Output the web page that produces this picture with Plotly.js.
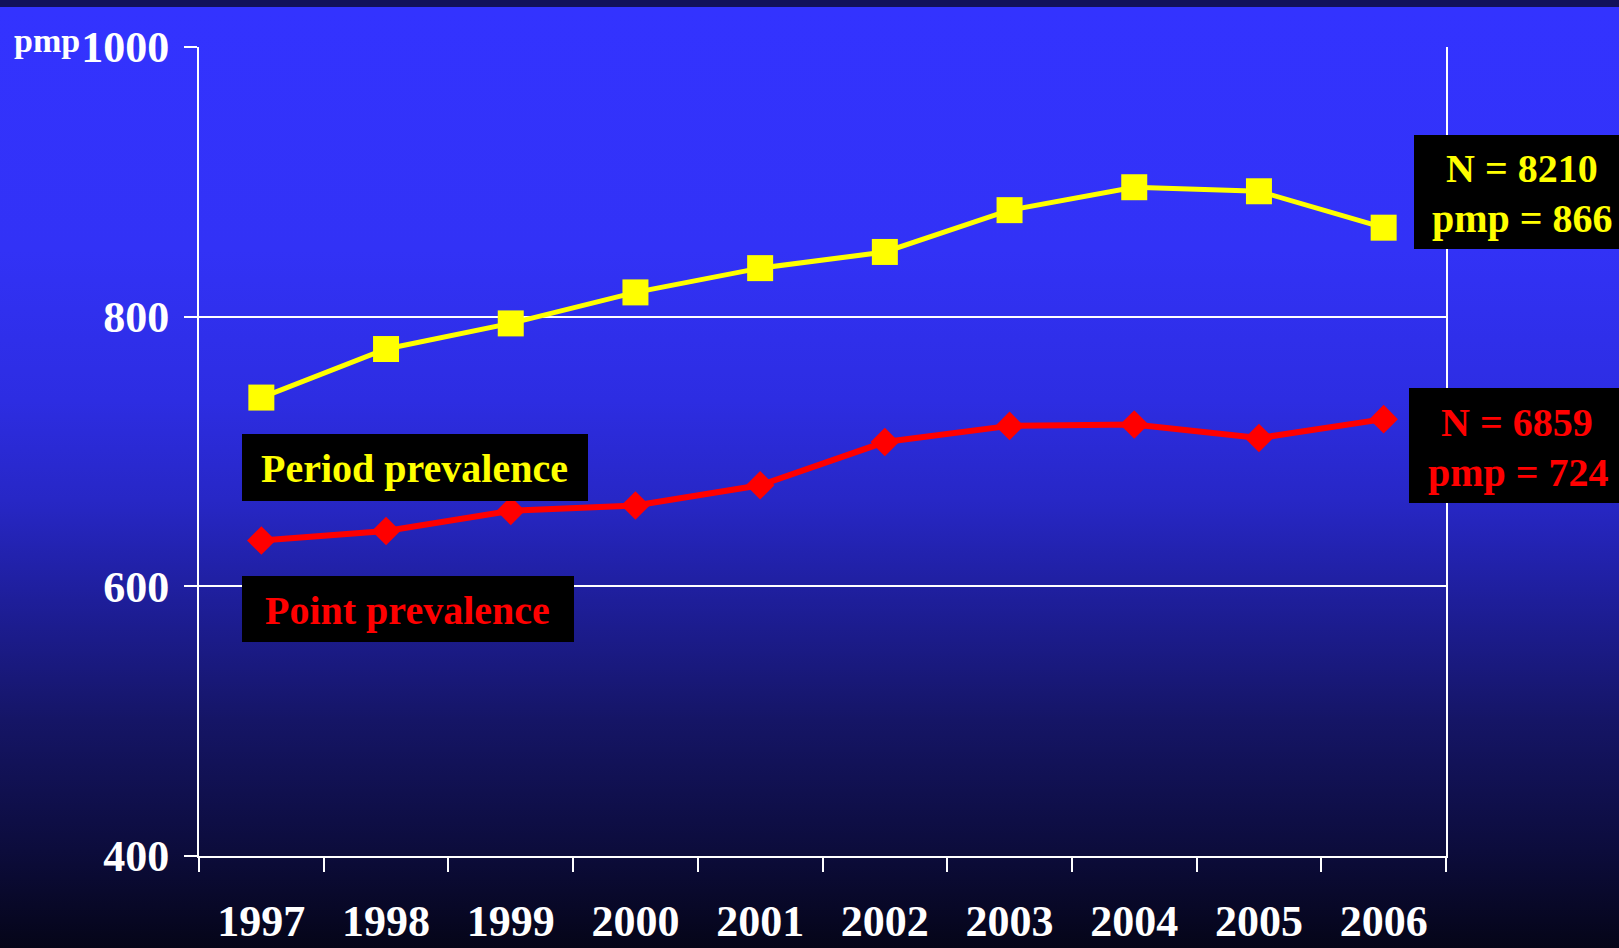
<!DOCTYPE html>
<html>
<head>
<meta charset="utf-8">
<script src="https://cdn.plot.ly/plotly-3.0.1.min.js"></script>
<style>
html, body { margin: 0; padding: 0; }
body {
  width: 1619px; height: 948px; overflow: hidden;
  background: linear-gradient(to bottom,
    #12125a 0px, #12125a 7px,
    #3333ff 7px, #3232f6 250px, #2d2de2 400px, #2727c6 500px,
    #1e1e9a 600px, #151566 720px, #0c0c3c 850px, #050518 948px);
}
#chart { width: 1619px; height: 948px; }
</style>
</head>
<body>
<div id="chart"></div>
<script>
const years = ['1997','1998','1999','2000','2001','2002','2003','2004','2005','2006'];
const periodPrevalence = [740, 776, 795, 818, 836, 848, 879, 896, 893, 866];
const pointPrevalence = [634, 641, 656, 660, 675, 707, 719, 720, 710, 724];
const yTicks = [400, 600, 800, 1000];

const FONT = 'Liberation Serif, Times New Roman, serif';
// plot area in pixels
const L = 199, R = 1446, T = 47, B = 856;
const px = x => (x - L) / (R - L);
const py = y => (B - y) / (B - T);

const traces = [
  {
    x: years, y: periodPrevalence, type: 'scatter', mode: 'lines+markers',
    line: { color: '#ffff00', width: 5 },
    marker: { symbol: 'square', size: 26, color: '#ffff00' },
    cliponaxis: false, hoverinfo: 'skip'
  },
  {
    x: years, y: pointPrevalence, type: 'scatter', mode: 'lines+markers',
    line: { color: '#ff0000', width: 6 },
    marker: { symbol: 'diamond', size: 22, color: '#ff0000' },
    cliponaxis: false, hoverinfo: 'skip'
  }
];

function box(x0, y0, x1, y1) {
  return { type: 'rect', xref: 'paper', yref: 'paper',
    x0: px(x0), x1: px(x1), y0: py(y1), y1: py(y0),
    fillcolor: '#000000', line: { width: 0 }, layer: 'above' };
}
function label(text, x, y, color, size) {
  return { text: text, xref: 'paper', yref: 'paper', x: px(x), y: py(y),
    xanchor: 'center', yanchor: 'middle', showarrow: false,
    font: { family: FONT, size: size || 40, color: color, weight: 'bold' } };
}

const layout = {
  width: 1619, height: 948,
  margin: { l: L, r: 1619 - R, t: T, b: 948 - B },
  paper_bgcolor: 'rgba(0,0,0,0)', plot_bgcolor: 'rgba(0,0,0,0)',
  showlegend: false,
  font: { family: FONT, color: '#ffffff', weight: 'bold' },
  xaxis: {
    type: 'category', range: [-0.5, 9.5], tickson: 'boundaries',
    ticks: 'outside', ticklen: 14, tickwidth: 2, tickcolor: '#ffffff',
    showline: true, linecolor: '#ffffff', linewidth: 2, showgrid: false,
    tickfont: { family: FONT, size: 44, color: '#ffffff', weight: 'bold' },
    ticklabelstandoff: 25, fixedrange: true
  },
  yaxis: {
    range: [400, 1000], tickvals: yTicks, ticktext: yTicks.map(String),
    ticks: 'outside', ticklen: 13, tickwidth: 2, tickcolor: '#ffffff',
    showline: true, linecolor: '#ffffff', linewidth: 2, mirror: true,
    showgrid: true, gridcolor: '#ffffff', gridwidth: 2, zeroline: false,
    tickfont: { family: FONT, size: 44, color: '#ffffff', weight: 'bold' },
    ticklabelstandoff: 6, fixedrange: true
  },
  shapes: [
    box(1414, 135, 1625, 249),
    box(1409, 388, 1625, 503),
    box(242, 434, 588, 501),
    box(242, 576, 574, 642)
  ],
  annotations: [
    label('pmp', 47, 40, '#ffffff', 34),
    label('N = 8210', 1522, 168, '#ffff00'),
    label('pmp = 866', 1522, 218, '#ffff00'),
    label('N = 6859', 1517, 422, '#ff0000'),
    label('pmp = 724', 1518, 472, '#ff0000'),
    label('Period prevalence', 414, 468, '#ffff00'),
    label('Point prevalence', 407, 610, '#ff0000')
  ]
};

Plotly.newPlot('chart', traces, layout, { displayModeBar: false, staticPlot: true });
</script>
</body>
</html>
